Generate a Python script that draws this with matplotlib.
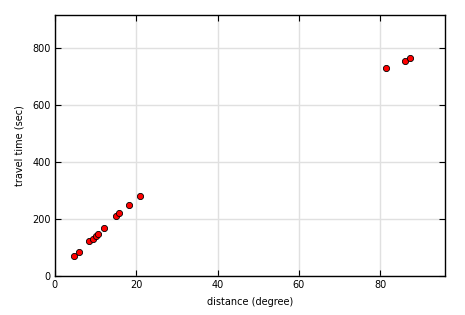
import numpy as np
import matplotlib
matplotlib.use("Agg")
from matplotlib import pyplot as plt

# distance (degree) / travel time (sec)
distance = [4.7, 5.9, 8.5, 9.4, 10.2, 10.6, 12.1, 15.0, 15.8, 18.2, 20.9, 81.3, 86.1, 87.4]
travel_time = [68, 82, 120, 130, 141, 147, 166, 209, 219, 247, 280, 729, 755, 764]

fig = plt.figure(figsize=(4.65, 3.15), dpi=100)
ax = fig.add_axes([0.118, 0.125, 0.840, 0.827])
ax.grid(True, color="#e0e0e0", linewidth=1.0, zorder=0)
ax.scatter(distance, travel_time, s=20, c="red", edgecolors="black", linewidths=0.6, zorder=3)

ax.set_xlim(0, 96)
ax.set_ylim(0, 916)
ax.set_xticks([0, 20, 40, 60, 80])
ax.set_yticks([0, 200, 400, 600, 800])
ax.tick_params(direction="in", top=True, right=True, labelsize=7, length=4, pad=3)
ax.set_xlabel("distance (degree)", fontsize=7, labelpad=5)
ax.set_ylabel("travel time (sec)", fontsize=7, labelpad=5.5)
for s in ax.spines.values():
    s.set_linewidth(1.0)

fig.savefig("out.png", dpi=100)
